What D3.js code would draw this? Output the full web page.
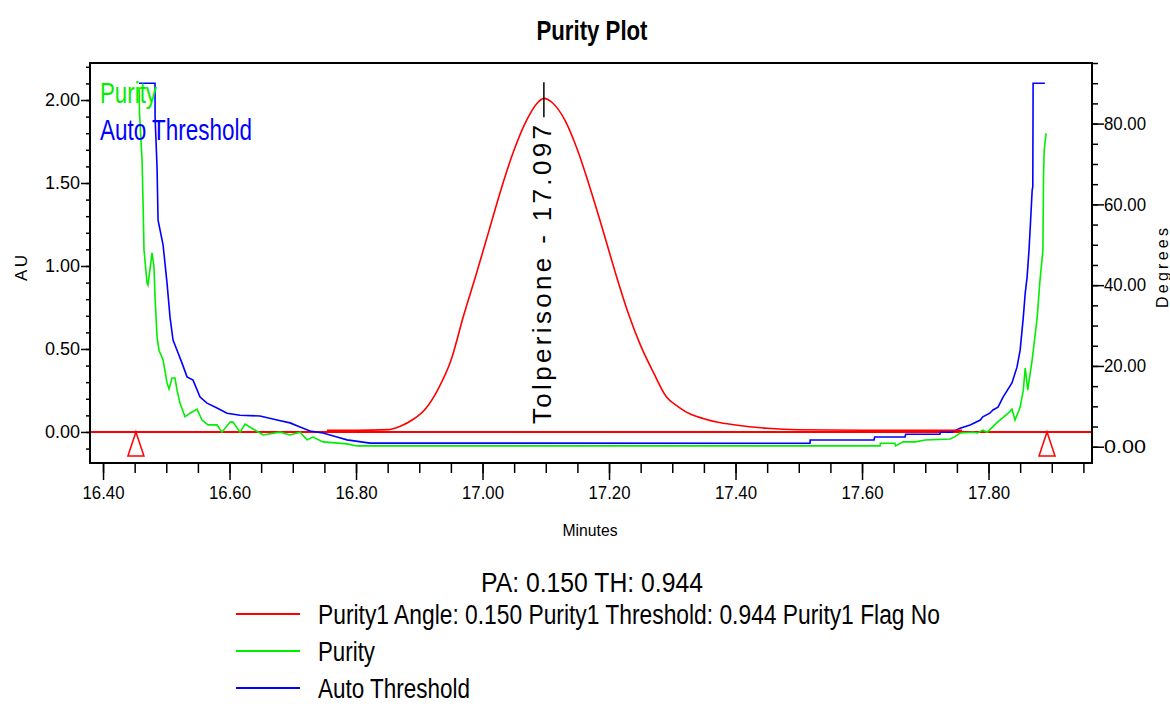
<!DOCTYPE html>
<html>
<head>
<meta charset="utf-8">
<script src="https://cdn.jsdelivr.net/npm/d3@7"></script>
<style>
  body { margin: 0; background: #fff; }
  svg { display: block; font-family: "Liberation Sans", Arial, sans-serif; }
</style>
</head>
<body>
<div id="chart"></div>
<script>
// ---- data ----
const xMajorTicks = [16.40, 16.60, 16.80, 17.00, 17.20, 17.40, 17.60, 17.80];
const auTicks = [0.00, 0.50, 1.00, 1.50, 2.00];
const degTicks = [0, 20, 40, 60, 80];

// chromatogram (AU, left axis)
const peakTime = [16.754, 16.800, 16.850, 16.870, 16.890, 16.910, 16.930, 16.950, 16.970, 16.990,
  17.010, 17.030, 17.050, 17.070, 17.085, 17.097, 17.110, 17.130, 17.150, 17.170, 17.190, 17.210,
  17.230, 17.250, 17.270, 17.290, 17.310, 17.330, 17.350, 17.370, 17.400, 17.450, 17.500, 17.600, 17.758];
const peakAU = [0.010, 0.010, 0.014, 0.035, 0.075, 0.140, 0.260, 0.430, 0.700, 0.950,
  1.210, 1.470, 1.700, 1.880, 1.975, 2.010, 1.985, 1.880, 1.700, 1.470, 1.220, 0.960,
  0.720, 0.520, 0.360, 0.215, 0.150, 0.105, 0.080, 0.060, 0.042, 0.022, 0.013, 0.010, 0.010];

// purity angle (degrees, right axis)
const purityTime = [16.457, 16.4577, 16.4617, 16.4633, 16.4648, 16.4696, 16.4711, 16.4775, 16.4806, 16.4822,
  16.4854, 16.4885, 16.4949, 16.5012, 16.5043, 16.5091, 16.5138, 16.5170, 16.5217, 16.5296,
  16.5375, 16.5486, 16.5565, 16.5660, 16.5802, 16.5881, 16.6008, 16.6055, 16.6166, 16.6245,
  16.6372, 16.6530, 16.6798, 16.6957, 16.7115, 16.7225, 16.7320, 16.7478, 16.7858, 16.8016,
  17.6285, 17.6290, 17.6520, 17.6530, 17.6650, 17.6840, 17.7000, 17.7390, 17.7470, 17.7550,
  17.7750, 17.7830, 17.7910, 17.7980, 17.8130, 17.8310, 17.8370, 17.8420, 17.8500, 17.8550,
  17.8580, 17.8620, 17.8690, 17.8740, 17.8770, 17.8810, 17.8860, 17.8870, 17.8880, 17.8910];
const purityDeg = [89.0, 82.5, 71.0, 60.3, 48.7, 40.5, 40.0, 48.0, 44.5, 37.1,
  27.2, 23.9, 21.5, 15.8, 14.3, 17.0, 17.0, 14.0, 10.8, 7.4,
  8.3, 9.3, 6.6, 5.4, 5.4, 3.6, 6.1, 6.1, 3.6, 5.6,
  4.4, 2.9, 3.6, 2.9, 3.6, 1.7, 2.4, 1.2, 0.7, 0.2,
  0.2, 0.85, 0.85, 0.2, 1.2, 1.2, 1.66, 1.9, 2.5, 3.4,
  3.6, 3.4, 4.1, 3.6, 5.9, 8.3, 9.3, 6.6, 9.8, 14.0,
  19.5, 14.0, 21.5, 28.1, 32.1, 40.5, 48.7, 67.2, 73.4, 77.6];

// auto threshold (degrees, right axis)
const thresholdTime = [16.4569, 16.4822, 16.4823, 16.4854, 16.4870, 16.4949, 16.5012, 16.5059, 16.5107, 16.5170,
  16.5249, 16.5328, 16.5423, 16.5534, 16.5644, 16.5802, 16.5960, 16.6166, 16.6482, 16.6751,
  16.6957, 16.7115, 16.7273, 16.7478, 16.7700, 16.7858, 16.8221, 17.5178, 17.5179, 17.6190,
  17.6200, 17.6680, 17.6690, 17.7230, 17.7240, 17.7420, 17.7550, 17.7710, 17.7870, 17.7910,
  17.8020, 17.8070, 17.8150, 17.8230, 17.8370, 17.8450, 17.8500, 17.8550, 17.8580, 17.8610,
  17.8640, 17.8660, 17.8690, 17.8700, 17.8705, 17.8890];
const thresholdDeg = [90, 90, 81.6, 69.2, 56.1, 50.0, 40.5, 32.1, 26.4, 23.9,
  20.7, 17.3, 16.5, 12.3, 10.8, 9.6, 8.3, 7.8, 7.6, 6.6,
  5.9, 4.9, 3.9, 3.4, 2.4, 1.7, 0.9, 0.85, 1.66, 1.66,
  2.4, 2.4, 3.1, 3.1, 3.6, 3.6, 4.6, 5.4, 6.6, 7.4,
  8.3, 9.1, 9.8, 12.3, 15.8, 19.7, 23.9, 32.1, 38.0, 42.0,
  48.7, 54.4, 63.5, 64.3, 90, 90];

const markerTimes = [16.452, 17.8925];      // integration start / end
const peakName = "Tolperisone";
const peakRT = 17.097;
const peakApexAU = 2.01;

const legendLabels = ["Purity1 Angle: 0.150 Purity1 Threshold: 0.944 Purity1 Flag No", "Purity", "Auto Threshold"];
const legendColors = ["#ff0000", "#00ee00", "#0000ff"];
const summaryText = "PA: 0.150  TH: 0.944";

// ---- layout ----
const W = 1170, H = 706;
const plotL = 90, plotR = 1092, plotT = 63, plotB = 463;

const svg = d3.select("#chart").append("svg")
  .attr("width", W)
  .attr("height", H);

const x = d3.scaleLinear().domain([16.3794, 17.9636]).range([plotL, plotR]);
const yAU = d3.scaleLinear().domain([-0.187, 2.223]).range([plotB, plotT]);
const yDeg = d3.scaleLinear().domain([-4.03, 95.0]).range([plotB, plotT]);

// helper for condensed text
function label(g, txt, px, py, size, len, opts = {}) {
  const t = g.append("text")
    .attr("x", px)
    .attr("y", py)
    .attr("font-size", size)
    .attr("fill", opts.fill || "#000")
    .attr("text-anchor", opts.anchor || "start")
    .text(txt);
  if (opts.bold) t.attr("font-weight", "bold");
  if (len) t.attr("textLength", len).attr("lengthAdjust", opts.adjust || "spacingAndGlyphs");
  if (opts.rotate) t.attr("transform", `rotate(${opts.rotate},${px},${py})`);
  return t;
}

// title
label(svg, "Purity Plot", 592, 40, 28, 111, { anchor: "middle", bold: true });

// axes
function styleAxis(g) {
  g.select(".domain").remove();
  g.selectAll("line").attr("stroke", "#000").attr("stroke-width", 1.5);
  g.selectAll("text").attr("font-family", "Liberation Sans, Arial, sans-serif").attr("font-size", 18).attr("fill", "#000");
}

const xMinor = d3.range(16.40, 17.96, 0.05);
svg.append("g")
  .attr("transform", `translate(0,${plotB})`)
  .call(d3.axisBottom(x).tickValues(xMinor).tickSize(10).tickFormat(""))
  .call(styleAxis);
svg.append("g")
  .attr("transform", `translate(0,${plotB})`)
  .call(d3.axisBottom(x).tickValues(xMajorTicks).tickSize(17).tickPadding(6).tickFormat(d3.format(".2f")))
  .call(styleAxis)
  .selectAll("text").attr("textLength", 42).attr("lengthAdjust", "spacingAndGlyphs");

const auMinor = d3.range(-0.1, 2.25, 0.1);
svg.append("g")
  .attr("transform", `translate(${plotL},0)`)
  .call(d3.axisLeft(yAU).tickValues(auMinor).tickSize(4).tickFormat(""))
  .call(styleAxis);
svg.append("g")
  .attr("transform", `translate(${plotL},0)`)
  .call(d3.axisLeft(yAU).tickValues(auTicks).tickSize(9).tickPadding(1).tickFormat(d3.format(".2f")))
  .call(styleAxis)
  .selectAll("text").attr("textLength", 35).attr("lengthAdjust", "spacingAndGlyphs");

const degMinor = d3.range(0, 96, 5);
svg.append("g")
  .attr("transform", `translate(${plotR},0)`)
  .call(d3.axisRight(yDeg).tickValues(degMinor).tickSize(6).tickFormat(""))
  .call(styleAxis);
svg.append("g")
  .attr("transform", `translate(${plotR},0)`)
  .call(d3.axisRight(yDeg).tickValues(degTicks).tickSize(12).tickPadding(0).tickFormat(d3.format(".2f")))
  .call(styleAxis)
  .selectAll("text").attr("textLength", 42).attr("lengthAdjust", "spacingAndGlyphs");

// axis titles
label(svg, "Minutes", 590, 536, 17, 55, { anchor: "middle" });
label(svg, "A U", 27, 268, 17, 26, { anchor: "middle", rotate: -90, adjust: "spacing" });
label(svg, "Degrees", 1168, 268, 16, 80, { anchor: "middle", rotate: -90, adjust: "spacing" });

// plot area
const plot = svg.append("g");
plot.append("clipPath").attr("id", "clip")
  .append("rect").attr("x", plotL).attr("y", plotT).attr("width", plotR - plotL).attr("height", plotB - plotT);
const traces = plot.append("g").attr("clip-path", "url(#clip)");

// baseline at 0 AU
traces.append("line")
  .attr("x1", plotL).attr("x2", plotR)
  .attr("y1", yAU(0)).attr("y2", yAU(0))
  .attr("stroke", "#ff0000").attr("stroke-width", 2);

const degLine = d3.line().x(d => x(d[0])).y(d => yDeg(d[1]));
const auLine = d3.line().x(d => x(d[0])).y(d => yAU(d[1])).curve(d3.curveMonotoneX);

traces.append("path")
  .datum(purityTime.map((t, i) => [t, purityDeg[i]]))
  .attr("d", degLine)
  .attr("fill", "none").attr("stroke", "#00ee00").attr("stroke-width", 1.6);

traces.append("path")
  .datum(thresholdTime.map((t, i) => [t, thresholdDeg[i]]))
  .attr("d", degLine)
  .attr("fill", "none").attr("stroke", "#0000ff").attr("stroke-width", 1.6);

traces.append("path")
  .datum(peakTime.map((t, i) => [t, peakAU[i]]))
  .attr("d", auLine)
  .attr("fill", "none").attr("stroke", "#ff0000").attr("stroke-width", 1.6);

// start/end triangles
traces.selectAll(".marker")
  .data(markerTimes)
  .join("path")
  .attr("class", "marker")
  .attr("d", t => {
    const cx = x(t), cy = yAU(0);
    return `M${cx},${cy}L${cx + 8},${cy + 24}L${cx - 8},${cy + 24}Z`;
  })
  .attr("fill", "#fff").attr("stroke", "#ff0000").attr("stroke-width", 1.5);

// peak label
plot.append("line")
  .attr("x1", x(peakRT)).attr("x2", x(peakRT))
  .attr("y1", yAU(peakApexAU) - 16).attr("y2", yAU(peakApexAU) + 19)
  .attr("stroke", "#000").attr("stroke-width", 1.5);
label(plot, `${peakName} - ${peakRT.toFixed(3)}`, x(peakRT) + 7, 424, 26, 299,
  { rotate: -90, adjust: "spacing" });

// in-plot legend
label(plot, legendLabels[1], 100, 103, 29, 57, { fill: legendColors[1] });
label(plot, legendLabels[2], 100, 140, 29, 152, { fill: legendColors[2] });

// frame
svg.append("rect")
  .attr("x", plotL).attr("y", plotT)
  .attr("width", plotR - plotL).attr("height", plotB - plotT)
  .attr("fill", "none").attr("stroke", "#000").attr("stroke-width", 2);

// bottom legend
label(svg, summaryText, 592, 592, 27, 222, { anchor: "middle" });
const leg = svg.append("g");
legendLabels.forEach((name, i) => {
  const cy = 614 + i * 37;
  leg.append("line")
    .attr("x1", 236).attr("x2", 300)
    .attr("y1", cy).attr("y2", cy)
    .attr("stroke", legendColors[i]).attr("stroke-width", 2);
});
label(leg, legendLabels[0], 318, 624, 27, 622);
label(leg, legendLabels[1], 318, 661, 27, 57);
label(leg, legendLabels[2], 318, 698, 27, 152);
</script>
</body>
</html>
